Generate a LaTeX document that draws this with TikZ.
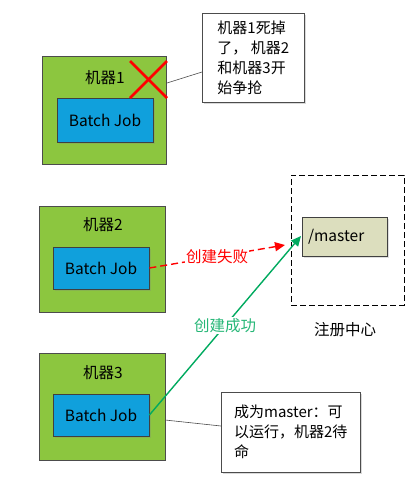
\documentclass[tikz,border=0pt]{standalone}
\usepackage{fontspec}
\setmainfont{Noto Sans CJK SC}
\usepackage{tikz}
\usetikzlibrary{positioning,arrows.meta,shadows}
\definecolor{machgreen}{RGB}{140,198,63}
\definecolor{jobblue}{RGB}{16,160,220}
\definecolor{masterfill}{RGB}{220,222,190}
\definecolor{okgreen}{RGB}{0,170,95}
\tikzset{
    machine/.style={draw=black!70, fill=machgreen, line width=0.8pt},
    jobbox/.style={draw=black!75, fill=jobblue, line width=0.8pt, minimum width=96pt, minimum height=42pt,
        font=\fontsize{15.5}{18}\selectfont, drop shadow={shadow xshift=2pt, shadow yshift=-2pt, opacity=0.25}},
    notebox/.style={draw=black!70, fill=white, line width=0.6pt, align=left, anchor=north west,
        font=\fontsize{15}{20}\selectfont, inner sep=6pt,
        drop shadow={shadow xshift=2pt, shadow yshift=-2pt, opacity=0.3}},
    txt/.style={font=\fontsize{15.5}{18}\selectfont}
}
\begin{document}
\begin{tikzpicture}[x=1pt,y=-1pt]
    \useasboundingbox (0,0) rectangle (415,480);
    % machines
    \node[machine, minimum width=124pt, minimum height=108pt] (m1) at (104.5,110) {};
    \node[machine, minimum width=126pt, minimum height=106pt] (m2) at (102,259) {};
    \node[machine, minimum width=126pt, minimum height=107pt] (m3) at (102,406.5) {};
    \node[txt] (m1label) at (105,78) {机器1};
    \node[txt] (m2label) at (103,225) {机器2};
    \node[txt] (m3label) at (103,373) {机器3};
    \node[jobbox, minimum height=44pt] (j1) at (105,120) {Batch Job};
    \node[jobbox] (j2) at (101,268) {Batch Job};
    \node[jobbox] (j3) at (101,415) {Batch Job};
    % dead mark
    \draw[red, line width=2.8pt] (130,61) -- (167,98);
    \draw[red, line width=2.8pt] (130,98) -- (167,61);
    % registry
    \node[draw, line width=0.8pt, dash pattern=on 6pt off 3pt, minimum width=113pt, minimum height=130pt] (reg) at (347.5,240) {};
    \node[draw=black!75, fill=masterfill, line width=0.8pt, minimum width=85pt, minimum height=39pt,
        txt, text width=73pt, align=left,
        drop shadow={shadow xshift=2pt, shadow yshift=-2pt, opacity=0.25}] (master) at (344.5,236.5) {/master};
    \node[txt] (reglabel) at (345,330) {注册中心};
    % notes
    \node[notebox, minimum width=102pt, minimum height=89pt, inner ysep=5pt] (n1) at (202,13) {机器1死掉\\了， 机器2\\和机器3开\\始争抢};
    \node[notebox, minimum width=139pt, minimum height=80pt, inner ysep=8pt] (n2) at (221,392) {成为master：可\\以运行，机器2待\\命};
    \coordinate (c1) at (167,83);
    \coordinate (c1n) at (202,72);
    \coordinate (c3) at (165,420);
    \coordinate (c3n) at (221,426);
    \draw[black!70, line width=0.6pt] (c1) -- (c1n);
    \draw[black!70, line width=0.6pt] (c3) -- (c3n);
    % create attempts
    \coordinate (failend) at (285,245);
    \coordinate (okend) at (301,236);
    \draw[red, line width=1.4pt, dash pattern=on 7pt off 4pt, -{Triangle[length=10pt,width=9pt]}]
        (j2.east) -- node[midway, fill=white, inner sep=1pt, txt, text=red] (failtxt) {创建失败} (failend);
    \draw[okgreen, line width=1.4pt, -{Triangle[length=10pt,width=9pt]}]
        (j3.east) -- node[midway, fill=white, inner sep=1pt, txt, text=okgreen!85] (oktxt) {创建成功} (okend);
\end{tikzpicture}
\end{document}
